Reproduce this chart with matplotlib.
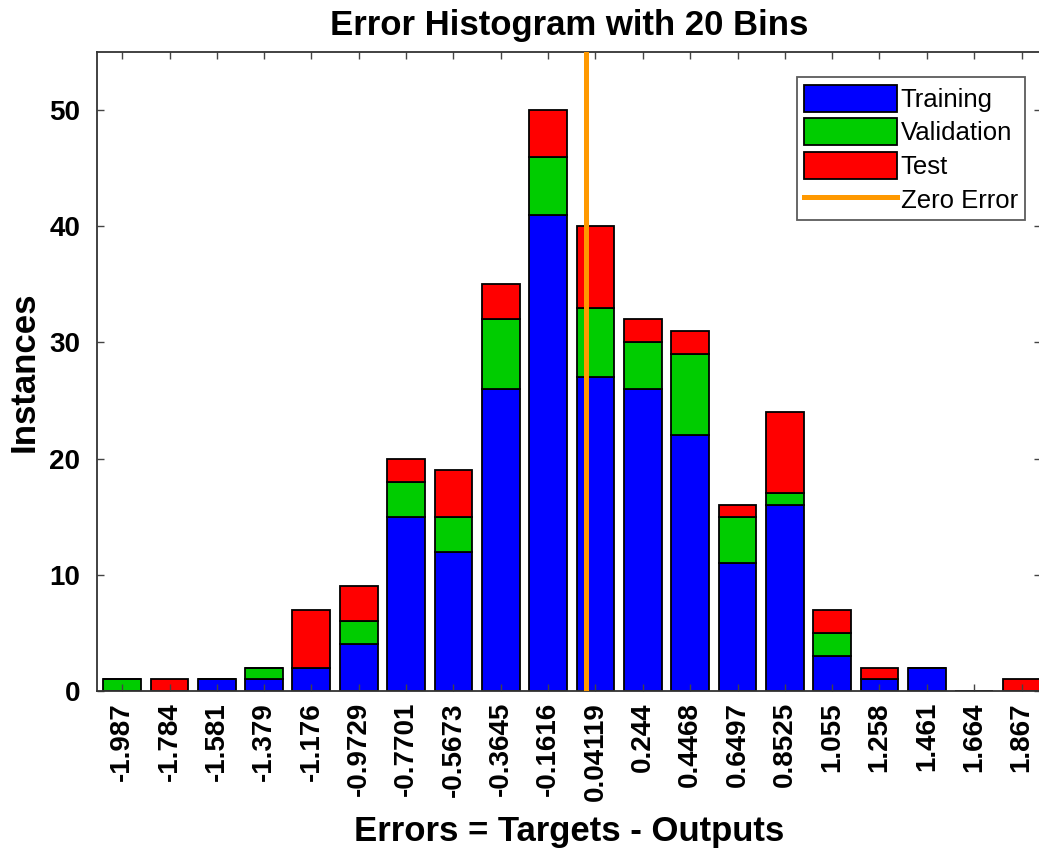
import matplotlib.pyplot as plt
import numpy as np

# bin centres and labels as printed on the axis
centers = [-1.987, -1.784, -1.581, -1.379, -1.176, -0.9729, -0.7701, -0.5673,
           -0.3645, -0.1616, 0.04119, 0.244, 0.4468, 0.6497, 0.8525, 1.055,
           1.258, 1.461, 1.664, 1.867]
tick_labels = ['-1.987', '-1.784', '-1.581', '-1.379', '-1.176', '-0.9729',
               '-0.7701', '-0.5673', '-0.3645', '-0.1616', '0.04119', '0.244',
               '0.4468', '0.6497', '0.8525', '1.055', '1.258', '1.461',
               '1.664', '1.867']

training   = [0, 0, 1, 1, 2, 4, 15, 12, 26, 41, 27, 26, 22, 11, 16, 3, 1, 2, 0, 0]
validation = [1, 0, 0, 1, 0, 2, 3, 3, 6, 5, 6, 4, 7, 4, 1, 2, 0, 0, 0, 0]
test       = [0, 1, 0, 0, 5, 3, 2, 4, 3, 4, 7, 2, 2, 1, 7, 2, 1, 0, 0, 1]

bold_font = ['Liberation Sans Narrow', 'Liberation Sans', 'DejaVu Sans']
plt.rcParams['font.family'] = ['Liberation Sans', 'DejaVu Sans']

fig = plt.figure(figsize=(10.39, 8.52), dpi=100)
ax = fig.add_axes([0.0934, 0.189, 0.909, 0.750])

x = np.array(centers)
tr = np.array(training)
va = np.array(validation)
te = np.array(test)
step = (centers[-1] - centers[0]) / 19
w = step * 0.8

b1 = ax.bar(x, tr, width=w, color='#0000FF', edgecolor='black', linewidth=1.3, label='Training')
b2 = ax.bar(x, va, width=w, bottom=tr, color='#00CC00', edgecolor='black', linewidth=1.3, label='Validation')
b3 = ax.bar(x, te, width=w, bottom=tr + va, color='#FF0000', edgecolor='black', linewidth=1.3, label='Test')
zl = ax.axvline(0, color='#FF9900', linewidth=3.6, label='Zero Error', zorder=3)

ax.set_xlim(centers[0] - step * 0.53, centers[0] + step * 19.42)
ax.set_ylim(0, 55)
ax.set_xticks(centers)
ax.set_xticklabels(tick_labels, rotation=90, fontsize=20, fontweight='bold', family=bold_font)
ax.set_yticks([0, 10, 20, 30, 40, 50])
ax.set_yticklabels(['0', '10', '20', '30', '40', '50'], fontsize=20, fontweight='bold', family=bold_font)
ax.tick_params(direction='in', top=True, right=True, length=5, width=1, color='#444444')
ax.tick_params(axis='y', pad=12)
ax.tick_params(axis='x', pad=8)
for s in ax.spines.values():
    s.set_color('#333333')
    s.set_linewidth(1.3)

ax.set_title('Error Histogram with 20 Bins', fontsize=25, fontweight='bold', family=bold_font, pad=12)
ax.set_xlabel('Errors = Targets - Outputs', fontsize=25, fontweight='bold', family=bold_font, labelpad=10)
ax.set_ylabel('Instances', fontsize=25, fontweight='bold', family=bold_font, labelpad=6)

leg = ax.legend([b1, b2, b3, zl], ['Training', 'Validation', 'Test', 'Zero Error'],
                loc='upper right', bbox_to_anchor=(0.983, 0.961), fontsize=18.5, frameon=True,
                fancybox=False, edgecolor='#333333', handlelength=3.6, handleheight=1.25,
                handletextpad=0.15, labelspacing=0.25, borderpad=0.3, borderaxespad=0)
leg.get_frame().set_linewidth(1.3)

fig.savefig('out.png', dpi=100)
